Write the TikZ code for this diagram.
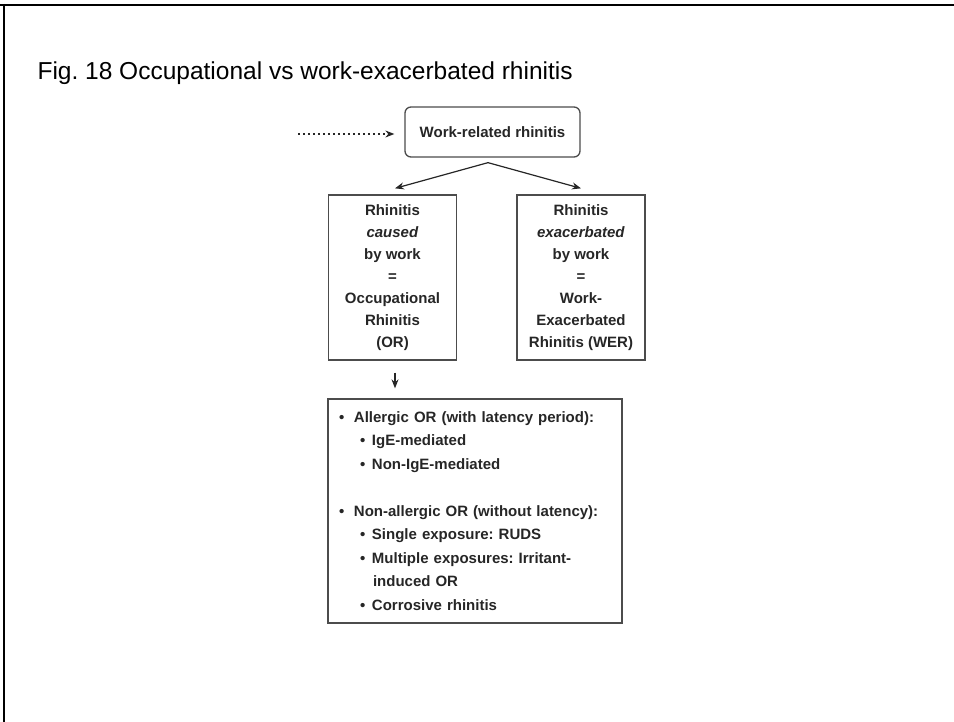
\documentclass[tikz,border=0pt]{standalone}
\usepackage{fontspec}
\setmainfont{Liberation Sans}
\usetikzlibrary{arrows.meta,calc}

\tikzset{
  box/.style={draw=black!70, line width=1.3pt, align=center, inner sep=0pt,
    text=black!85, font=\bfseries\fontsize{15}{22}\selectfont},
  tip/.style={-{Stealth[length=9pt,width=7pt]}, line width=1.2pt, draw=black!85},
}
\newcommand{\mainbullet}{\makebox[15pt][l]{\textbullet}}
\newcommand{\subbullet}{\hspace*{21pt}\makebox[12pt][l]{\textbullet}}

\begin{document}
\frenchspacing
\begin{tikzpicture}[x=1pt,y=-1pt]
\useasboundingbox (0,0) rectangle (954,722);
% frame
\draw[line width=2.5pt] (0,5)--(954,5);
\draw[line width=2pt] (4,4)--(4,722);
\node[anchor=base west, font=\fontsize{24.5}{28}\selectfont] (title) at (34,80)
  {Fig. 18 Occupational vs work-exacerbated rhinitis};
% boxes
\node[box, rounded corners=6pt, minimum width=175pt, minimum height=50pt] (wr) at (492.5,132)
  {Work-related rhinitis};
\node[box, minimum width=128pt, minimum height=165pt] (or) at (392.5,277.5)
  {Rhinitis\\\textit{caused}\\by work\\=\\Occupational\\Rhinitis\\(OR)};
\node[box, minimum width=128pt, minimum height=165pt] (wer) at (581,277.5)
  {Rhinitis\\\textit{exacerbated}\\by work\\=\\Work-\\Exacerbated\\Rhinitis (WER)};
\node[box, minimum width=294pt, minimum height=224pt, align=left, text width=272pt,
  font=\bfseries\fontsize{15}{23.5}\selectfont] (list) at (475,511)
  {\mainbullet Allergic OR (with latency period):\\
   \subbullet IgE-mediated\\
   \subbullet Non-IgE-mediated\\[23.5pt]
   \mainbullet Non-allergic OR (without latency):\\
   \subbullet Single exposure: RUDS\\
   \subbullet Multiple exposures: Irritant-\\
   \hspace*{34pt}induced OR\\
   \subbullet Corrosive rhinitis};
% arrows
\coordinate (split) at ($(wr.south)+(-4.5,5)$);
\coordinate (src) at (298,134);
\draw[tip, dash pattern=on 2pt off 3pt] (src) -- ($(wr.west)+(-10,2)$);
\draw[tip] (split) -- ($(or.north)+(2.5,-6)$);
\draw[tip] (split) -- ($(wer.north)+(0,-6)$);
\draw[tip] ($(or.south)+(2.5,12)$) -- ($(or.south |- list.north)+(2.5,-10)$);
\end{tikzpicture}
\end{document}
